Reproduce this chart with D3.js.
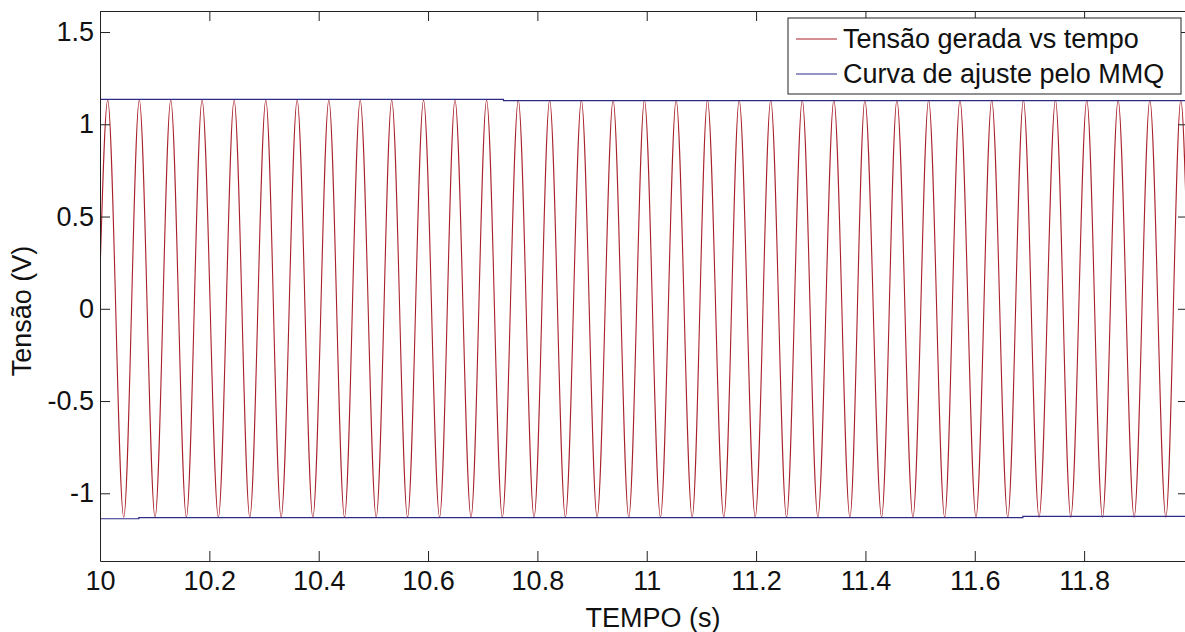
<!DOCTYPE html>
<html>
<head>
<meta charset="utf-8">
<style>
  body { margin: 0; background: #fff; overflow: hidden; }
  text { font-family: "Liberation Sans", Arial, sans-serif; fill: #111; }
  .axis text { font-size: 27px; }
  .axis path, .axis line { stroke: #222; }
  .legend text { font-size: 27px; }
</style>
<script src="https://cdnjs.cloudflare.com/ajax/libs/d3/7.8.5/d3.min.js"></script>
</head>
<body>
<svg width="1185" height="632"></svg>
<script>
// tempo (s) of the maxima / minima
var peakTimes = [10.0141, 10.0719, 10.1294, 10.1867, 10.2453, 10.3033, 10.3606, 10.4186, 10.4759, 10.5336,
                 10.5918, 10.6493, 10.7071, 10.7651, 10.8224, 10.8805, 10.9385, 10.9958, 11.0538, 11.1111,
                 11.1691, 11.2268, 11.2845, 11.3423, 11.3990, 11.4576, 11.5156, 11.5729, 11.6310, 11.6890,
                 11.7476, 11.8049, 11.8622, 11.9202, 11.9769];
var troughTimes = [10.0434, 10.1007, 10.1580, 10.2165, 10.2740, 10.3313, 10.3893, 10.4472, 10.5052, 10.5625,
                   10.6211, 10.6786, 10.7359, 10.7939, 10.8512, 10.9092, 10.9671, 11.0251, 11.0831, 11.1410,
                   11.1984, 11.2557, 11.3130, 11.3716, 11.4296, 11.4869, 11.5449, 11.6022, 11.6603, 11.7176,
                   11.7756, 11.8336, 11.8915, 11.9495];
var peakValue = 1.13;
var troughValue = -1.13;
var firstSample = [10.0, 0.19];
var lastSample = [11.99, 0.18];

// fitted curve (MMQ) envelope, as it shows on the plot
var fitUpper = [[10.0, 1.135], [10.738, 1.135], [10.738, 1.128], [11.99, 1.128]];
var fitLower = [[10.0, -1.138], [10.071, -1.138], [10.071, -1.132], [11.688, -1.132], [11.688, -1.125], [11.99, -1.125]];

var xTicks = [10, 10.2, 10.4, 10.6, 10.8, 11, 11.2, 11.4, 11.6, 11.8];
var yTicks = [-1, -0.5, 0, 0.5, 1, 1.5];
var legendLabels = ["Tensão gerada vs tempo", "Curva de ajuste pelo MMQ"];
var legendColors = ["#a8202a", "#2c2c88"];

var svg = d3.select("svg");
var plotLeft = 100, plotTop = 11, plotRight = 1188, plotBottom = 561;

var x = d3.scaleLinear().domain([10, 11.99]).range([plotLeft, plotRight]);
var y = d3.scaleLinear().domain([-1.367, 1.614]).range([plotBottom, plotTop]);

// red signal: extremes merged in time order
var signal = [firstSample];
peakTimes.forEach(function (t) { signal.push([t, peakValue]); });
troughTimes.forEach(function (t) { signal.push([t, troughValue]); });
signal.push(lastSample);
signal.sort(function (a, b) { return a[0] - b[0]; });

svg.append("clipPath").attr("id", "plot")
  .append("rect").attr("x", plotLeft).attr("y", plotTop)
  .attr("width", plotRight - plotLeft).attr("height", plotBottom - plotTop);

var g = svg.append("g").attr("clip-path", "url(#plot)");

var curve = d3.line()
  .x(function (d) { return x(d[0]); })
  .y(function (d) { return y(d[1]); })
  .curve(d3.curveMonotoneX);

var step = d3.line()
  .x(function (d) { return x(d[0]); })
  .y(function (d) { return y(d[1]); });

g.append("path").datum(signal)
  .attr("d", curve).attr("fill", "none")
  .attr("stroke", legendColors[0]).attr("stroke-width", 1.1);

[fitUpper, fitLower].forEach(function (d) {
  g.append("path").datum(d)
    .attr("d", step).attr("fill", "none")
    .attr("stroke", legendColors[1]).attr("stroke-width", 1.2);
});

// axes, MATLAB style: inward ticks on all four sides
svg.append("g").attr("class", "axis")
  .attr("transform", "translate(0," + plotBottom + ")")
  .call(d3.axisBottom(x).tickValues(xTicks).tickSize(-10).tickSizeOuter(0).tickPadding(10)
    .tickFormat(function (d) { return String(+d.toFixed(1)); }));

svg.append("g").attr("class", "axis")
  .attr("transform", "translate(0," + plotTop + ")")
  .call(d3.axisTop(x).tickValues(xTicks).tickSize(-10).tickSizeOuter(0).tickFormat(""));

svg.append("g").attr("class", "axis")
  .attr("transform", "translate(" + plotLeft + ",0)")
  .call(d3.axisLeft(y).tickValues(yTicks).tickSize(-10).tickSizeOuter(0).tickPadding(6)
    .tickFormat(function (d) { return String(d).replace("\u2212", "-"); }));

svg.append("g").attr("class", "axis")
  .attr("transform", "translate(" + plotRight + ",0)")
  .call(d3.axisRight(y).tickValues(yTicks).tickSize(-10).tickSizeOuter(0).tickFormat(""));

svg.selectAll(".axis text").attr("fill", "#111");

svg.append("text")
  .attr("x", 653).attr("y", 627)
  .attr("text-anchor", "middle")
  .style("font-size", "27px")
  .text("TEMPO (s)");

svg.append("text")
  .attr("transform", "translate(31,311) rotate(-90)")
  .attr("text-anchor", "middle")
  .style("font-size", "27px")
  .text("Tensão (V)");

// legend
var legend = svg.append("g").attr("class", "legend");
legend.append("rect")
  .attr("x", 788).attr("y", 18).attr("width", 393).attr("height", 76)
  .attr("fill", "#fff").attr("stroke", "#222").attr("stroke-width", 1);

legendLabels.forEach(function (label, i) {
  var ly = 39 + i * 35;
  legend.append("line")
    .attr("x1", 796).attr("x2", 837).attr("y1", ly).attr("y2", ly)
    .attr("stroke", legendColors[i]).attr("stroke-width", 1.2);
  legend.append("text")
    .attr("x", 843).attr("y", ly).attr("dy", "0.35em")
    .text(label);
});
</script>
</body>
</html>
